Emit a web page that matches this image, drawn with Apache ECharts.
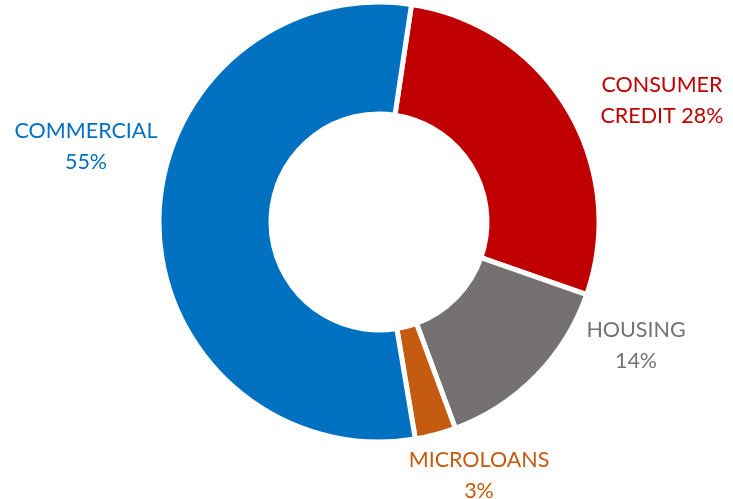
<!DOCTYPE html>
<html>
<head>
<meta charset="utf-8">
<script src="https://cdn.jsdelivr.net/npm/echarts@6/dist/echarts.min.js"></script>
<style>html,body{margin:0;padding:0;background:#fff}#c{width:733px;height:499px}</style>
</head>
<body>
<div id="c"></div>
<script>
var categories = ['CONSUMER CREDIT', 'HOUSING', 'MICROLOANS', 'COMMERCIAL'];
var values = [28, 14, 3, 55];
var colors = ['#C00000', '#767171', '#C55A11', '#0070C0'];
var labelCenters = [[662, 101], [636, 346], [479, 476], [86, 147]];

var chart = echarts.init(document.getElementById('c'));
chart.setOption({
  animation: false,
  series: [{
    type: 'pie',
    center: [379, 222],
    radius: [108, 220],
    startAngle: 81.5,
    clockwise: true,
    data: categories.map(function (n, i) {
      return {
        name: n, value: values[i],
        itemStyle: { color: colors[i] },
        label: { color: colors[i] }
      };
    }),
    itemStyle: { borderColor: '#fff', borderWidth: 5 },
    label: {
      show: true,
      position: 'outside',
      overflow: 'none',
      fontFamily: 'Lato',
      fontSize: 21.5,
      lineHeight: 31,
      align: 'center',
      formatter: function (p) {
        var n = p.name;
        if (n.indexOf(' ') >= 0) {
          return n.replace(' ', '\n') + ' ' + p.value + '%';
        }
        return n + '\n' + p.value + '%';
      }
    },
    labelLine: { show: false },
    labelLayout: function (p) {
      var c = labelCenters[p.dataIndex];
      return { x: c[0], y: c[1], align: 'center', verticalAlign: 'middle' };
    }
  }]
});
</script>
</body>
</html>
